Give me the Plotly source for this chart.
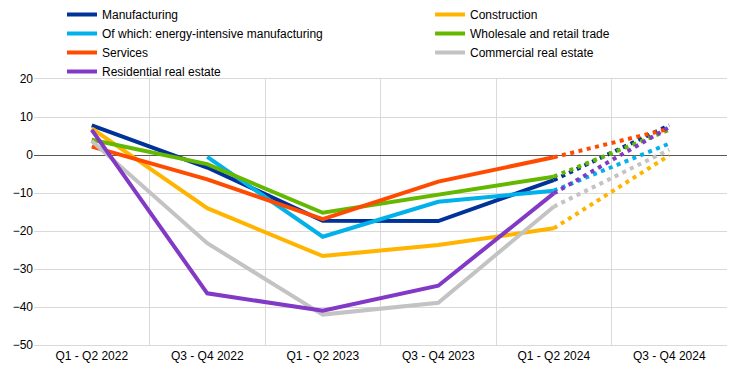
import plotly.graph_objects as go

categories = ["Q1 - Q2 2022", "Q3 - Q4 2022", "Q1 - Q2 2023", "Q3 - Q4 2023", "Q1 - Q2 2024", "Q3 - Q4 2024"]

series_names = [
    "Manufacturing",
    "Construction",
    "Of which: energy-intensive manufacturing",
    "Wholesale and retail trade",
    "Services",
    "Commercial real estate",
    "Residential real estate",
]

manufacturing = [7.8, -3.3, -17.3, -17.4, -6.6, 7.8]
construction = [7.0, -14.0, -26.6, -23.7, -19.3, -0.1]
energy_intensive = [None, -0.5, -21.5, -12.3, -9.4, 3.0]
wholesale = [4.0, -2.4, -15.2, -10.5, -5.7, 6.6]
services = [2.2, -6.4, -16.9, -7.0, -0.6, 6.9]
commercial = [3.7, -23.2, -42.0, -38.9, -13.6, 1.4]
residential = [6.6, -36.4, -41.0, -34.4, -10.1, 7.3]

values = [manufacturing, construction, energy_intensive, wholesale, services, commercial, residential]
colors = ["#003299", "#ffb400", "#00b1ea", "#65b800", "#ff4b00", "#c3c3c3", "#8139c6"]
# legend column for each series (left / right column as in the reference)
legend_ids = ["legend", "legend2", "legend", "legend2", "legend", "legend2", "legend"]

fig = go.Figure()
n_actual = 5
for name, vals, col, lg in zip(series_names, values, colors, legend_ids):
    fig.add_trace(go.Scatter(
        x=categories[:n_actual], y=vals[:n_actual], mode="lines", name=name,
        line=dict(color=col, width=4), legendgroup=name, showlegend=True, legend=lg,
    ))
for name, vals, col, lg in zip(series_names, values, colors, legend_ids):
    fig.add_trace(go.Scatter(
        x=categories[n_actual - 1:], y=vals[n_actual - 1:], mode="lines", name=name,
        line=dict(color=col, width=4, dash="4px,4.5px"), legendgroup=name, showlegend=False, legend=lg,
    ))

legend_common = dict(
    orientation="v", xref="container", yref="container",
    y=1.0156, xanchor="left", yanchor="top",
    font=dict(size=12, color="#000000"), bgcolor="rgba(0,0,0,0)", traceorder="normal",
)

fig.update_layout(
    width=744, height=384,
    margin=dict(l=34, r=17, t=79, b=39, autoexpand=False),
    paper_bgcolor="white", plot_bgcolor="white",
    font=dict(family="Liberation Sans, Arial, sans-serif", size=12, color="#000000"),
    legend=dict(x=0.0833, **legend_common),
    legend2=dict(x=0.578, **legend_common),
    showlegend=True,
)
fig.update_xaxes(
    type="category", categoryorder="array", categoryarray=categories,
    range=[-0.5, 5.5], tickson="boundaries", ticks="",
    showgrid=True, gridcolor="#d9d9d9", gridwidth=1,
    showline=True, mirror=True, linecolor="#d9d9d9", linewidth=1,
    tickfont=dict(size=12), fixedrange=True,
)
fig.update_yaxes(
    range=[-50, 20], dtick=10, tick0=0,
    showgrid=True, gridcolor="#d9d9d9", gridwidth=1,
    zeroline=True, zerolinecolor="#595959", zerolinewidth=1,
    showline=False, ticks="", tickfont=dict(size=12), fixedrange=True,
)

fig.write_html("out.html", config={"displayModeBar": False},
               post_script="document.body.style.margin='0px';")
